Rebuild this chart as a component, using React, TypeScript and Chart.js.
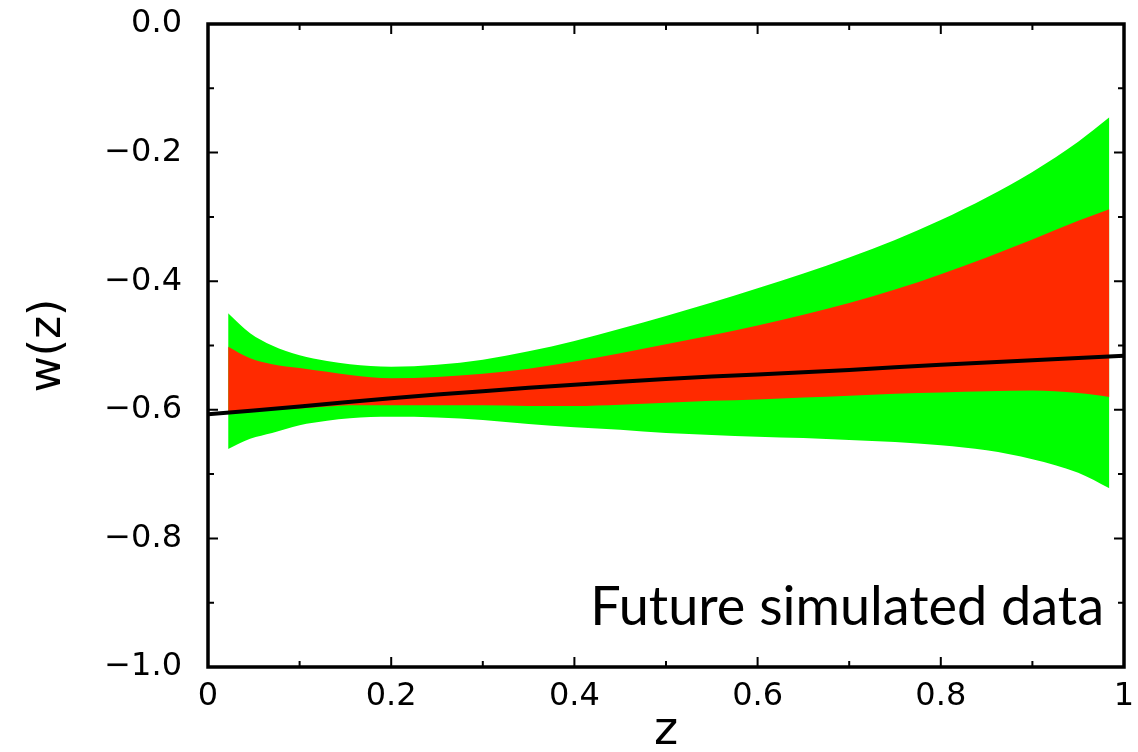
import { useEffect, useRef } from 'react';
import { Chart, registerables } from 'chart.js';

Chart.register(...registerables);

// ---- data ----
const zBand = [0.022, 0.046, 0.07, 0.1, 0.13, 0.155, 0.2, 0.25, 0.3, 0.35, 0.4, 0.45, 0.5, 0.55, 0.6, 0.65, 0.7, 0.75, 0.8, 0.85, 0.9, 0.95, 0.984];
const greenUpper = [-0.450, -0.481, -0.500, -0.515, -0.524, -0.529, -0.533, -0.530, -0.522, -0.509, -0.493, -0.474, -0.454, -0.433, -0.411, -0.388, -0.363, -0.336, -0.305, -0.270, -0.230, -0.183, -0.145];
const redUpper = [-0.502, -0.520, -0.529, -0.535, -0.541, -0.546, -0.551, -0.549, -0.544, -0.536, -0.525, -0.512, -0.498, -0.484, -0.469, -0.452, -0.434, -0.413, -0.389, -0.363, -0.335, -0.306, -0.288];
const redLower = [-0.603, -0.601, -0.600, -0.598, -0.595, -0.593, -0.593, -0.593, -0.593, -0.594, -0.594, -0.592, -0.589, -0.586, -0.584, -0.581, -0.578, -0.575, -0.573, -0.571, -0.570, -0.574, -0.580];
const greenLower = [-0.661, -0.645, -0.636, -0.624, -0.617, -0.613, -0.611, -0.612, -0.616, -0.622, -0.627, -0.631, -0.636, -0.639, -0.642, -0.644, -0.647, -0.650, -0.655, -0.663, -0.677, -0.698, -0.722];

const zLine = [0, 0.1, 0.2, 0.3, 0.4, 0.5, 0.6, 0.7, 0.8, 0.9, 1.0];
const wLine = [-0.607, -0.595, -0.582, -0.571, -0.561, -0.552, -0.545, -0.538, -0.530, -0.523, -0.516];

const xTickLabels = ['0', '0.2', '0.4', '0.6', '0.8', '1'];
const yTickLabels = ['\u22121.0', '\u22120.8', '\u22120.6', '\u22120.4', '\u22120.2', '0.0'];

const xTitle = 'z';
const yTitle = 'w(z)';
const annotation = 'Future simulated data';

const GREEN = '#00ff00';
const RED = '#ff2a00';

const toPts = (xs: number[], ys: number[]) => xs.map((x, i) => ({ x, y: ys[i] }));

const framePlugin = {
  id: 'frameAndTicks',
  afterDraw(chart: any) {
    const { ctx, chartArea: a, scales } = chart;
    const xs = scales.x;
    const ys = scales.y;
    ctx.save();
    ctx.strokeStyle = '#000';
    ctx.lineWidth = 2;
    const major = 10;
    const minor = 6;
    const xt = xs.ticks.map((t: any) => t.value);
    const yt = ys.ticks.map((t: any) => t.value);
    const tickX = (v: number, len: number) => {
      const px = xs.getPixelForValue(v);
      ctx.beginPath();
      ctx.moveTo(px, a.bottom);
      ctx.lineTo(px, a.bottom - len);
      ctx.moveTo(px, a.top);
      ctx.lineTo(px, a.top + len);
      ctx.stroke();
    };
    const tickY = (v: number, len: number) => {
      const py = ys.getPixelForValue(v);
      ctx.beginPath();
      ctx.moveTo(a.left, py);
      ctx.lineTo(a.left + len, py);
      ctx.moveTo(a.right, py);
      ctx.lineTo(a.right - len, py);
      ctx.stroke();
    };
    xt.forEach((v: number, i: number) => {
      tickX(v, major);
      if (i < xt.length - 1) tickX((v + xt[i + 1]) / 2, minor);
    });
    yt.forEach((v: number, i: number) => {
      tickY(v, major);
      if (i < yt.length - 1) tickY((v + yt[i + 1]) / 2, minor);
    });
    ctx.lineWidth = 3.5;
    ctx.strokeRect(a.left, a.top, a.right - a.left, a.bottom - a.top);

    ctx.fillStyle = '#000';
    ctx.font = '54px Lato';
    ctx.textAlign = 'right';
    ctx.textBaseline = 'alphabetic';
    ctx.fillText(annotation, 1104, 625);
    ctx.restore();
  },
};

export default function App() {
  const ref = useRef<HTMLCanvasElement | null>(null);
  useEffect(() => {
    if (!ref.current) return;
    const chart = new Chart(ref.current, {
      type: 'line',
      data: {
        datasets: [
          {
            label: 'fit',
            data: toPts(zLine, wLine),
            borderColor: '#000',
            borderWidth: 4,
            pointRadius: 0,
            fill: false,
            tension: 0.4,
          },
          {
            label: 'red upper',
            data: toPts(zBand, redUpper),
            borderWidth: 0,
            borderColor: RED,
            backgroundColor: RED,
            pointRadius: 0,
            fill: '+1',
            cubicInterpolationMode: 'monotone',
          },
          {
            label: 'red lower',
            data: toPts(zBand, redLower),
            borderWidth: 0,
            borderColor: RED,
            pointRadius: 0,
            fill: false,
            cubicInterpolationMode: 'monotone',
          },
          {
            label: 'green upper',
            data: toPts(zBand, greenUpper),
            borderWidth: 0,
            borderColor: GREEN,
            backgroundColor: GREEN,
            pointRadius: 0,
            fill: '+1',
            cubicInterpolationMode: 'monotone',
          },
          {
            label: 'green lower',
            data: toPts(zBand, greenLower),
            borderWidth: 0,
            borderColor: GREEN,
            pointRadius: 0,
            fill: false,
            cubicInterpolationMode: 'monotone',
          },
        ],
      },
      options: {
        animation: false,
        responsive: false,
        devicePixelRatio: 1,
        layout: { padding: { top: 24, right: 14, left: 0, bottom: 0 } },
        plugins: { legend: { display: false }, tooltip: { enabled: false } },
        scales: {
          x: {
            type: 'linear',
            min: 0,
            max: 1,
            ticks: {
              stepSize: 0.2,
              color: '#000',
              padding: 10,
              font: { family: 'DejaVu Sans', size: 32 },
              callback: (_v: any, i: number) => xTickLabels[i],
              maxRotation: 0,
            },
            grid: { display: false, drawTicks: false },
            border: { display: false },
            title: {
              display: true,
              text: xTitle,
              color: '#000',
              font: { family: 'DejaVu Sans', size: 46, lineHeight: 0.87 },
              padding: 0,
            },
            afterFit: (s: any) => {
              s.height = 85;
              s.paddingLeft = 0;
              s.paddingRight = 0;
              s.paddingTop = 0;
              s.paddingBottom = 0;
            },
          },
          y: {
            type: 'linear',
            min: -1,
            max: 0,
            ticks: {
              stepSize: 0.2,
              color: '#000',
              padding: 26,
              font: { family: 'DejaVu Sans', size: 32 },
              callback: (_v: any, i: number) => yTickLabels[i],
            },
            grid: { display: false, drawTicks: false },
            border: { display: false },
            title: {
              display: true,
              text: yTitle,
              color: '#000',
              font: { family: 'DejaVu Sans', size: 44, lineHeight: 1 },
              padding: { top: 27, bottom: 0 },
            },
            afterFit: (s: any) => {
              s.width = 208;
              s.paddingLeft = 0;
              s.paddingRight = 0;
              s.paddingTop = 0;
              s.paddingBottom = 0;
            },
          },
        },
      },
      plugins: [framePlugin],
    } as any);
    return () => chart.destroy();
  }, []);
  return (
    <div style={{ position: 'absolute', left: 0, top: 0, width: 1138, height: 752, background: '#fff' }}>
      <canvas ref={ref} width={1138} height={752} />
    </div>
  );
}
